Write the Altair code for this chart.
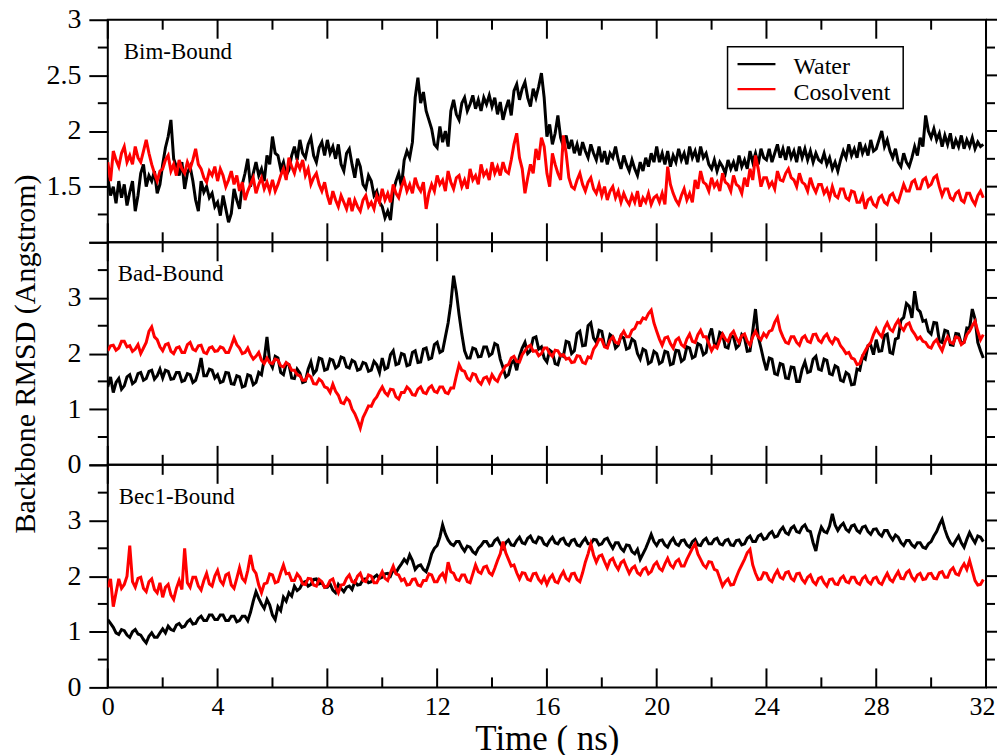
import altair as alt
import pandas as pd

PANELS = ["Bim-Bound", "Bad-Bound", "Bec1-Bound"]
SERIES = ["Water", "Cosolvent"]
COLORS = ["#000000", "#ff0000"]
STEP_NS = 0.1

W1 = [1.58, 1.42, 1.50, 1.35, 1.55, 1.40, 1.52, 1.33, 1.45, 1.55, 1.28, 1.42, 1.62, 1.70, 1.50, 1.60, 1.55, 1.64, 1.44, 1.52,
      1.70, 1.85, 1.95, 2.10, 1.75, 1.68, 1.60, 1.72, 1.48, 1.62, 1.68, 1.55, 1.38, 1.28, 1.55, 1.45, 1.50, 1.40, 1.44, 1.32,
      1.36, 1.24, 1.42, 1.30, 1.18, 1.26, 1.48, 1.38, 1.30, 1.52, 1.62, 1.75, 1.50, 1.62, 1.72, 1.60, 1.66, 1.55, 1.78, 1.70,
      1.95, 1.80, 1.78, 1.66, 1.72, 1.60, 1.65, 1.78, 1.86, 1.74, 1.92, 1.80, 1.76, 1.88, 1.94, 1.78, 1.72, 1.85, 1.90, 1.78,
      1.92, 1.80, 1.86, 1.75, 1.88, 1.70, 1.64, 1.80, 1.84, 1.70, 1.58, 1.75, 1.68, 1.52, 1.48, 1.60, 1.55, 1.42, 1.46, 1.36,
      1.32, 1.22, 1.28, 1.20, 1.45, 1.55, 1.62, 1.50, 1.74, 1.82, 1.76, 1.90, 2.30, 2.48, 2.25, 2.35, 2.18, 2.10, 2.02, 1.88,
      1.85, 2.04, 1.90, 2.00, 1.86, 2.18, 2.28, 2.15, 2.10, 2.25, 2.30, 2.18, 2.24, 2.32, 2.20, 2.28, 2.18, 2.30, 2.24, 2.32,
      2.22, 2.30, 2.15, 2.26, 2.10, 2.20, 2.28, 2.14, 2.36, 2.42, 2.28, 2.38, 2.44, 2.30, 2.22, 2.38, 2.30, 2.40, 2.52, 2.30,
      1.95, 2.06, 1.88, 1.98, 2.14, 1.94, 1.86, 1.96, 1.84, 1.92, 1.80, 1.88, 1.78, 1.90, 1.82, 1.76, 1.88, 1.80, 1.74, 1.86,
      1.72, 1.82, 1.70, 1.80, 1.76, 1.86, 1.74, 1.66, 1.78, 1.70, 1.64, 1.74, 1.66, 1.60, 1.72, 1.64, 1.76, 1.68, 1.80, 1.72,
      1.86, 1.72, 1.80, 1.70, 1.82, 1.68, 1.78, 1.72, 1.84, 1.74, 1.80, 1.70, 1.86, 1.76, 1.82, 1.72, 1.86, 1.76, 1.80, 1.70,
      1.66, 1.74, 1.64, 1.72, 1.68, 1.62, 1.74, 1.66, 1.72, 1.64, 1.78, 1.68, 1.74, 1.66, 1.82, 1.72, 1.80, 1.70, 1.84, 1.76,
      1.74, 1.84, 1.72, 1.80, 1.88, 1.76, 1.84, 1.74, 1.86, 1.76, 1.82, 1.72, 1.86, 1.76, 1.84, 1.74, 1.82, 1.72, 1.80, 1.74,
      1.72, 1.80, 1.70, 1.76, 1.66, 1.72, 1.64, 1.74, 1.82, 1.76, 1.88, 1.78, 1.84, 1.76, 1.90, 1.80, 1.86, 1.78, 1.92, 1.82,
      1.84, 1.92, 2.00, 1.86, 1.92, 1.82, 1.76, 1.84, 1.72, 1.68, 1.80, 1.72, 1.68, 1.76, 1.86, 1.78, 1.94, 1.86, 2.14, 2.00,
      1.94, 2.02, 1.92, 1.98, 1.86, 1.96, 1.88, 1.98, 1.84, 1.92, 1.86, 1.96, 1.84, 1.92, 1.86, 1.94, 1.84, 1.90, 1.86, 1.88]

C1 = [1.72, 1.55, 1.82, 1.74, 1.68, 1.80, 1.86, 1.72, 1.78, 1.70, 1.86, 1.76, 1.72, 1.82, 1.92, 1.80, 1.70, 1.62, 1.55, 1.64,
      1.66, 1.74, 1.78, 1.64, 1.70, 1.60, 1.74, 1.66, 1.62, 1.72, 1.66, 1.74, 1.84, 1.70, 1.66, 1.58, 1.54, 1.64, 1.60, 1.68,
      1.55, 1.66, 1.60, 1.50, 1.56, 1.64, 1.52, 1.60, 1.46, 1.54, 1.38, 1.46, 1.52, 1.58, 1.44, 1.52, 1.58, 1.48, 1.54, 1.46,
      1.56, 1.46, 1.52, 1.60, 1.66, 1.56, 1.76, 1.68, 1.62, 1.72, 1.66, 1.74, 1.60, 1.66, 1.52, 1.58, 1.62, 1.52, 1.46, 1.54,
      1.42, 1.34, 1.46, 1.38, 1.32, 1.42, 1.36, 1.30, 1.40, 1.28, 1.38, 1.32, 1.28, 1.38, 1.42, 1.32, 1.36, 1.30, 1.42, 1.36,
      1.48, 1.38, 1.44, 1.36, 1.52, 1.44, 1.40, 1.50, 1.56, 1.46, 1.52, 1.44, 1.58, 1.50, 1.46, 1.54, 1.30, 1.44, 1.52, 1.46,
      1.60, 1.52, 1.56, 1.46, 1.64, 1.54, 1.48, 1.58, 1.60, 1.50, 1.56, 1.48, 1.66, 1.56, 1.60, 1.52, 1.70, 1.60, 1.64, 1.56,
      1.72, 1.62, 1.68, 1.60, 1.72, 1.64, 1.62, 1.74, 1.88, 1.98, 1.76, 1.66, 1.44, 1.58, 1.70, 1.62, 1.84, 1.74, 1.94, 1.86,
      1.62, 1.50, 1.80, 1.70, 1.62, 1.56, 1.96, 1.80, 1.58, 1.50, 1.48, 1.56, 1.62, 1.52, 1.46, 1.54, 1.58, 1.48, 1.44, 1.52,
      1.42, 1.50, 1.38, 1.46, 1.50, 1.40, 1.46, 1.36, 1.44, 1.38, 1.34, 1.42, 1.36, 1.46, 1.32, 1.40, 1.36, 1.44, 1.34, 1.40,
      1.42, 1.36, 1.44, 1.34, 1.68, 1.52, 1.44, 1.38, 1.34, 1.42, 1.48, 1.38, 1.44, 1.36, 1.56, 1.48, 1.64, 1.54, 1.52, 1.46,
      1.58, 1.50, 1.54, 1.46, 1.62, 1.54, 1.52, 1.46, 1.60, 1.52, 1.50, 1.44, 1.58, 1.50, 1.66, 1.56, 1.78, 1.66, 1.50, 1.58,
      1.58, 1.50, 1.54, 1.48, 1.64, 1.56, 1.55, 1.62, 1.66, 1.58, 1.56, 1.50, 1.62, 1.54, 1.52, 1.46, 1.58, 1.50, 1.45, 1.52,
      1.52, 1.44, 1.48, 1.40, 1.50, 1.42, 1.40, 1.48, 1.48, 1.40, 1.38, 1.46, 1.45, 1.36, 1.36, 1.42, 1.30, 1.38, 1.40, 1.34,
      1.32, 1.40, 1.42, 1.36, 1.34, 1.42, 1.44, 1.38, 1.36, 1.44, 1.52, 1.46, 1.46, 1.54, 1.56, 1.48, 1.48, 1.56, 1.58, 1.50,
      1.52, 1.58, 1.60, 1.50, 1.42, 1.48, 1.48, 1.40, 1.38, 1.44, 1.46, 1.38, 1.36, 1.44, 1.44, 1.38, 1.34, 1.42, 1.46, 1.40]

W2 = [1.40, 1.58, 1.30, 1.48, 1.55, 1.36, 1.42, 1.58, 1.62, 1.46, 1.50, 1.64, 1.66, 1.52, 1.55, 1.68, 1.70, 1.54, 1.60, 1.72,
      1.56, 1.70, 1.68, 1.54, 1.55, 1.66, 1.66, 1.50, 1.52, 1.64, 1.62, 1.48, 1.52, 1.68, 1.92, 1.60, 1.60, 1.72, 1.70, 1.56,
      1.62, 1.48, 1.50, 1.66, 1.65, 1.46, 1.45, 1.60, 1.58, 1.40, 1.42, 1.62, 1.60, 1.44, 1.48, 1.66, 1.62, 1.90, 2.30, 1.85,
      1.75, 1.95, 1.92, 1.66, 1.62, 1.82, 1.80, 1.56, 1.55, 1.72, 1.65, 1.48, 1.50, 1.72, 1.85, 1.64, 1.70, 1.92, 1.90, 1.70,
      1.72, 1.90, 1.88, 1.74, 1.78, 1.94, 1.92, 1.76, 1.74, 1.88, 1.85, 1.70, 1.72, 1.84, 1.82, 1.68, 1.70, 1.86, 1.80, 1.66,
      1.92, 1.72, 1.75, 1.98, 2.05, 1.80, 1.82, 2.00, 1.98, 1.78, 1.80, 2.02, 2.05, 1.84, 1.85, 2.08, 2.10, 1.90, 1.92, 2.16,
      2.20, 2.02, 2.05, 2.30, 2.55, 2.90, 3.40, 3.10, 2.70, 2.35, 2.05, 1.92, 1.92, 2.10, 2.08, 1.94, 1.95, 2.12, 2.12, 1.96,
      2.00, 2.18, 2.15, 1.90, 1.75, 1.58, 1.62, 1.82, 1.88, 1.70, 1.95, 2.10, 2.20, 2.00, 2.05, 2.28, 2.30, 2.08, 2.12, 1.92,
      1.85, 2.06, 2.02, 1.82, 1.80, 1.98, 1.95, 2.22, 2.20, 2.00, 2.05, 2.36, 2.40, 2.14, 2.15, 2.50, 2.55, 2.28, 2.20, 2.42,
      2.40, 2.14, 2.12, 2.34, 2.30, 2.10, 2.15, 2.32, 2.28, 2.08, 2.10, 2.26, 2.22, 2.00, 1.90, 2.08, 2.05, 1.82, 1.85, 2.04,
      2.00, 1.82, 1.85, 2.04, 2.02, 1.80, 1.82, 2.06, 2.05, 1.86, 1.90, 2.12, 2.10, 1.92, 1.95, 2.18, 2.15, 1.98, 2.02, 2.30,
      2.45, 2.18, 2.15, 2.38, 2.35, 2.12, 2.10, 2.32, 2.30, 2.10, 2.15, 2.34, 2.28, 2.04, 2.05, 2.40, 2.80, 2.30, 2.10, 1.88,
      1.70, 1.92, 1.90, 1.64, 1.62, 1.82, 1.80, 1.56, 1.55, 1.76, 1.75, 1.50, 1.50, 1.72, 1.85, 1.66, 1.68, 1.90, 1.95, 1.72,
      1.70, 1.90, 1.88, 1.64, 1.62, 1.78, 1.75, 1.52, 1.50, 1.66, 1.62, 1.44, 1.45, 1.72, 1.70, 1.94, 1.90, 2.14, 2.15, 1.98,
      2.25, 2.04, 2.05, 2.32, 2.35, 2.02, 2.00, 2.26, 2.28, 2.60, 2.65, 2.90, 2.85, 2.64, 3.12, 2.80, 2.75, 2.58, 2.60, 2.40,
      2.35, 2.56, 2.55, 2.22, 2.20, 2.42, 2.40, 2.16, 2.15, 2.36, 2.35, 2.18, 2.20, 2.46, 2.45, 2.80, 2.62, 2.20, 2.05, 1.92]

C2 = [2.05, 2.14, 2.15, 2.06, 2.10, 2.22, 2.22, 2.12, 2.14, 2.04, 2.08, 2.16, 2.00, 2.10, 2.20, 2.40, 2.48, 2.30, 2.25, 2.12,
      2.05, 2.16, 2.18, 2.04, 2.00, 2.10, 2.12, 2.02, 2.02, 2.16, 2.20, 2.08, 2.05, 2.14, 2.15, 2.02, 2.00, 2.10, 2.12, 2.04,
      2.05, 2.12, 2.10, 2.02, 2.02, 2.14, 2.28, 2.16, 2.10, 2.00, 2.02, 2.10, 1.98, 1.90, 1.95, 2.02, 1.88, 1.82, 1.92, 1.84,
      1.82, 1.90, 1.88, 1.78, 1.76, 1.84, 1.80, 1.70, 1.70, 1.62, 1.60, 1.52, 1.52, 1.62, 1.58, 1.46, 1.45, 1.54, 1.50, 1.40,
      1.38, 1.30, 1.45, 1.32, 1.25, 1.12, 1.10, 1.20, 1.15, 1.00, 0.92, 0.80, 0.66, 0.85, 0.95, 1.06, 1.05, 1.16, 1.22, 1.32,
      1.40, 1.30, 1.25, 1.36, 1.35, 1.22, 1.18, 1.30, 1.30, 1.40, 1.35, 1.26, 1.25, 1.36, 1.40, 1.30, 1.28, 1.38, 1.42, 1.32,
      1.30, 1.40, 1.40, 1.30, 1.28, 1.38, 1.38, 1.60, 1.80, 1.70, 1.68, 1.56, 1.52, 1.64, 1.62, 1.50, 1.45, 1.56, 1.58, 1.48,
      1.62, 1.54, 1.50, 1.62, 1.70, 1.78, 1.80, 1.92, 1.95, 1.86, 1.85, 1.98, 2.05, 2.12, 2.15, 2.04, 2.05, 1.96, 2.00, 2.10,
      2.10, 2.00, 1.95, 2.06, 2.05, 1.96, 1.98, 1.90, 1.92, 1.84, 1.85, 1.96, 1.95, 1.84, 1.82, 1.94, 1.92, 2.08, 2.15, 2.26,
      2.25, 2.12, 2.10, 2.24, 2.30, 2.20, 2.18, 2.32, 2.40, 2.30, 2.30, 2.42, 2.45, 2.56, 2.55, 2.64, 2.62, 2.72, 2.78, 2.55,
      2.40, 2.26, 2.15, 2.28, 2.30, 2.18, 2.10, 2.24, 2.28, 2.16, 2.12, 2.26, 2.35, 2.22, 2.20, 2.34, 2.42, 2.30, 2.30, 2.18,
      2.05, 2.14, 2.10, 2.24, 2.35, 2.26, 2.22, 2.34, 2.40, 2.28, 2.20, 2.32, 2.35, 2.22, 2.15, 2.30, 2.40, 2.30, 2.25, 2.36,
      2.30, 2.40, 2.42, 2.56, 2.65, 2.42, 2.30, 2.20, 2.18, 2.30, 2.30, 2.20, 2.15, 2.28, 2.32, 2.22, 2.20, 2.34, 2.35, 2.24,
      2.20, 2.30, 2.35, 2.24, 2.18, 2.28, 2.25, 2.14, 2.08, 2.00, 2.02, 1.92, 1.90, 1.80, 1.82, 1.96, 2.05, 2.14, 2.20, 2.34,
      2.45, 2.36, 2.30, 2.46, 2.55, 2.44, 2.40, 2.52, 2.60, 2.48, 2.42, 2.52, 2.55, 2.42, 2.35, 2.26, 2.30, 2.22, 2.20, 2.12,
      2.10, 2.20, 2.25, 2.14, 2.05, 2.20, 2.30, 2.20, 2.18, 2.30, 2.28, 2.16, 2.20, 2.34, 2.40, 2.50, 2.58, 2.40, 2.25, 2.34]

W3 = [1.22, 1.15, 1.08, 0.98, 0.95, 1.04, 1.02, 0.94, 0.90, 1.00, 1.04, 0.96, 0.94, 0.86, 0.80, 0.92, 0.98, 0.90, 0.90, 0.98,
      1.05, 0.98, 1.10, 1.04, 1.02, 1.12, 1.15, 1.08, 1.10, 1.18, 1.22, 1.14, 1.15, 1.24, 1.28, 1.20, 1.20, 1.30, 1.30, 1.22,
      1.22, 1.30, 1.30, 1.20, 1.20, 1.28, 1.28, 1.18, 1.20, 1.28, 1.28, 1.20, 1.35, 1.55, 1.72, 1.60, 1.50, 1.42, 1.58, 1.48,
      1.30, 1.22, 1.45, 1.38, 1.62, 1.55, 1.70, 1.64, 1.82, 1.74, 1.78, 1.88, 1.90, 1.82, 1.85, 1.94, 1.95, 1.86, 1.88, 1.80,
      1.80, 1.86, 1.75, 1.70, 1.85, 1.78, 1.72, 1.80, 1.82, 1.76, 1.90, 1.84, 1.85, 1.94, 1.95, 1.88, 1.90, 1.98, 2.02, 1.96,
      1.98, 2.04, 2.05, 2.00, 2.12, 2.06, 2.15, 2.22, 2.30, 2.24, 2.38, 2.28, 2.12, 2.18, 2.20, 2.12, 2.08, 2.22, 2.40, 2.50,
      2.55, 2.70, 2.92, 2.76, 2.65, 2.58, 2.55, 2.62, 2.62, 2.52, 2.45, 2.54, 2.52, 2.44, 2.40, 2.50, 2.55, 2.62, 2.62, 2.54,
      2.55, 2.64, 2.68, 2.58, 2.50, 2.60, 2.65, 2.56, 2.55, 2.64, 2.70, 2.60, 2.58, 2.68, 2.72, 2.62, 2.60, 2.70, 2.68, 2.58,
      2.55, 2.64, 2.70, 2.60, 2.58, 2.66, 2.68, 2.58, 2.55, 2.64, 2.66, 2.56, 2.54, 2.62, 2.68, 2.58, 2.58, 2.66, 2.65, 2.56,
      2.58, 2.66, 2.68, 2.58, 2.50, 2.60, 2.60, 2.50, 2.45, 2.56, 2.55, 2.44, 2.40, 2.48, 2.30, 2.40, 2.50, 2.62, 2.75, 2.62,
      2.55, 2.64, 2.65, 2.56, 2.52, 2.62, 2.68, 2.58, 2.55, 2.64, 2.65, 2.56, 2.52, 2.62, 2.66, 2.56, 2.55, 2.64, 2.68, 2.58,
      2.58, 2.66, 2.68, 2.58, 2.56, 2.64, 2.66, 2.56, 2.55, 2.64, 2.65, 2.56, 2.58, 2.68, 2.72, 2.62, 2.62, 2.72, 2.75, 2.66,
      2.68, 2.76, 2.80, 2.70, 2.72, 2.82, 2.88, 2.78, 2.75, 2.86, 2.90, 2.80, 2.78, 2.88, 2.92, 2.82, 2.80, 2.60, 2.45, 2.72,
      2.88, 2.80, 2.78, 2.90, 3.12, 2.92, 2.82, 2.90, 2.95, 2.84, 2.80, 2.90, 2.92, 2.82, 2.78, 2.88, 2.90, 2.80, 2.75, 2.84,
      2.85, 2.76, 2.72, 2.82, 2.82, 2.72, 2.65, 2.74, 2.70, 2.60, 2.55, 2.64, 2.64, 2.56, 2.52, 2.60, 2.60, 2.52, 2.50, 2.58,
      2.62, 2.72, 2.80, 2.92, 3.02, 2.84, 2.70, 2.60, 2.55, 2.64, 2.72, 2.60, 2.52, 2.66, 2.78, 2.68, 2.60, 2.72, 2.70, 2.62]

C3 = [1.80, 1.95, 1.45, 1.70, 1.95, 1.78, 1.85, 2.00, 2.55, 1.90, 1.80, 1.96, 1.98, 1.78, 1.72, 1.90, 1.95, 1.76, 1.70, 1.88,
      1.62, 1.80, 1.85, 1.66, 1.58, 1.78, 1.92, 1.76, 2.50, 1.88, 1.80, 1.98, 1.98, 1.82, 1.75, 1.92, 2.05, 1.86, 1.82, 2.00,
      2.10, 1.92, 1.85, 2.02, 2.05, 1.84, 1.78, 1.96, 2.15, 1.96, 1.90, 2.10, 2.38, 2.12, 2.05, 1.84, 1.70, 1.86, 1.88, 2.04,
      2.02, 1.88, 1.90, 2.06, 2.20, 2.04, 2.05, 1.92, 1.92, 2.04, 1.98, 1.86, 1.85, 1.96, 1.95, 1.84, 1.82, 1.94, 1.90, 1.80,
      1.82, 1.92, 1.95, 1.80, 1.70, 1.84, 1.85, 1.96, 2.02, 1.90, 1.88, 2.00, 2.05, 1.92, 1.90, 2.02, 2.00, 1.88, 1.88, 1.98,
      2.08, 1.96, 1.92, 2.06, 2.18, 2.04, 2.02, 1.92, 1.95, 1.84, 1.85, 1.94, 1.95, 1.84, 1.82, 1.92, 1.92, 2.04, 2.02, 1.90,
      1.90, 2.00, 2.05, 1.94, 2.25, 2.08, 2.05, 1.94, 1.92, 2.02, 2.02, 1.90, 1.88, 2.04, 2.20, 2.08, 2.05, 2.16, 2.18, 2.06,
      2.02, 2.14, 2.28, 2.40, 2.62, 2.42, 2.30, 2.18, 2.20, 2.06, 1.95, 2.06, 2.05, 1.94, 1.92, 2.04, 2.05, 1.94, 1.88, 1.98,
      1.85, 1.96, 2.02, 1.90, 1.88, 2.00, 2.08, 1.96, 1.92, 2.04, 2.05, 1.94, 1.90, 2.06, 2.25, 2.40, 2.58, 2.38, 2.25, 2.36,
      2.38, 2.26, 2.15, 2.28, 2.32, 2.20, 2.12, 2.24, 2.28, 2.16, 2.05, 2.14, 2.18, 2.06, 2.02, 2.12, 2.15, 2.04, 2.08, 2.20,
      2.25, 2.14, 2.10, 2.22, 2.32, 2.20, 2.15, 2.26, 2.30, 2.18, 2.18, 2.30, 2.40, 2.50, 2.58, 2.40, 2.30, 2.20, 2.15, 2.26,
      2.25, 2.12, 2.10, 1.96, 1.82, 1.90, 1.95, 1.84, 1.85, 1.98, 2.10, 2.20, 2.30, 2.42, 2.48, 2.20, 2.05, 1.94, 1.95, 2.06,
      2.05, 1.94, 1.90, 2.02, 2.10, 1.98, 1.95, 2.06, 2.08, 1.96, 1.92, 2.04, 2.05, 1.94, 1.88, 1.98, 2.02, 1.90, 1.85, 1.96,
      1.98, 1.88, 1.82, 1.94, 1.95, 1.86, 1.85, 1.96, 2.00, 1.90, 1.88, 1.98, 1.98, 1.88, 1.85, 1.96, 2.00, 1.90, 1.86, 1.96,
      1.98, 1.88, 1.85, 1.96, 2.05, 1.94, 1.90, 2.00, 2.08, 1.96, 1.95, 2.06, 2.10, 1.98, 1.92, 2.02, 2.05, 1.94, 1.95, 2.04,
      2.05, 1.96, 1.95, 2.06, 2.08, 1.98, 1.98, 2.10, 2.15, 2.04, 2.02, 2.14, 2.22, 2.12, 2.28, 2.10, 1.92, 1.84, 1.85, 1.94]

DATA = [(W1, C1), (W2, C2), (W3, C3)]
DOMAINS = [(1.0, 3.0), (0.0, 4.0), (0.0, 4.0)]
YMAJ = [[1.0, 1.5, 2.0, 2.5, 3.0], [0, 1, 2, 3, 4], [0, 1, 2, 3, 4]]
YMIN = [[1.25, 1.75, 2.25, 2.75], [0.5, 1.5, 2.5, 3.5], [0.5, 1.5, 2.5, 3.5]]
HIDE = [[1.0], [4], [4]]
XMAJ = [0, 4, 8, 12, 16, 20, 24, 28, 32]
XMIN = [2, 6, 10, 14, 18, 22, 26, 30]
X_TITLE = "Time ( ns)"
Y_TITLE = "Backbone RMSD (Angstrom)"

W, H = 880, 223
FONT = "Liberation Serif"
LABEL_X = [16, 10, 11]


def panel(i):
    lo, hi = DOMAINS[i]
    xscale = alt.Scale(domain=[0, 32], nice=False, zero=False)
    yscale = alt.Scale(domain=[lo, hi], nice=False, zero=False)
    hide = " || ".join(f"datum.value == {h}" for h in HIDE[i])
    yaxis = alt.Axis(values=YMAJ[i], labelExpr=f"({hide}) ? '' : format(datum.value, '~g')",
                     tickSize=19, tickWidth=2, tickColor="black", domain=False, grid=False,
                     labelFont=FONT, labelFontSize=28, labelColor="black", labelPadding=8,
                     minExtent=64, maxExtent=64, titleFont=FONT, titleFontSize=30,
                     titleFontWeight="normal", titleColor="black", titlePadding=3)
    ytitle = Y_TITLE if i == 1 else None
    if i == 2:
        xaxis = alt.Axis(values=XMAJ, format="d", ticks=False, domain=False, grid=False,
                         labelFlush=False,
                         labelOffset={"condition": {"test": f"datum.value == {XMAJ[-1]}", "value": -4},
                                      "value": 0},
                         labelFont=FONT, labelFontSize=26, labelColor="black",
                         labelPadding=6, titleFont=FONT, titleFontSize=35, titleFontWeight="normal",
                         titleColor="black", titlePadding=2)
        xtitle = X_TITLE
    else:
        xaxis = None
        xtitle = None

    def X(field):
        return alt.X(field, type="quantitative", scale=xscale, axis=xaxis, title=xtitle)

    def Y(field):
        return alt.Y(field, type="quantitative", scale=yscale, axis=yaxis, title=ytitle)

    layers = []
    for k, s in enumerate(SERIES):
        vals = DATA[i][k]
        df = pd.DataFrame({"t": [round(STEP_NS * j, 2) for j in range(len(vals))], "rmsd": vals})
        layers.append(alt.Chart(df).mark_line(color=COLORS[k], strokeWidth=3, clip=True)
                      .encode(x=X("t"), y=Y("rmsd")))

    xmaj = pd.DataFrame({"t": XMAJ})
    xmin = pd.DataFrame({"t": XMIN})
    for d, ln in ((xmaj, 19), (xmin, 10)):
        layers.append(alt.Chart(d).mark_rule(color="black", strokeWidth=2)
                      .encode(x=X("t"), y=alt.value(0), y2=alt.value(ln)))
        layers.append(alt.Chart(d).mark_rule(color="black", strokeWidth=2)
                      .encode(x=X("t"), y=alt.value(H - ln), y2=alt.value(H)))
    ymaj = pd.DataFrame({"rmsd": YMAJ[i]})
    ymin = pd.DataFrame({"rmsd": YMIN[i]})
    layers.append(alt.Chart(ymin).mark_rule(color="black", strokeWidth=2)
                  .encode(y=Y("rmsd"), x=alt.value(-10), x2=alt.value(0)))
    layers.append(alt.Chart(ymaj).mark_rule(color="black", strokeWidth=2)
                  .encode(y=Y("rmsd"), x=alt.value(W), x2=alt.value(W + 14)))
    layers.append(alt.Chart(ymin).mark_rule(color="black", strokeWidth=2)
                  .encode(y=Y("rmsd"), x=alt.value(W), x2=alt.value(W + 9)))

    lab = pd.DataFrame({"label": [PANELS[i]]})
    layers.append(alt.Chart(lab).mark_text(align="left", baseline="alphabetic", font=FONT,
                                           fontSize=23, color="black")
                  .encode(x=alt.value(LABEL_X[i]), y=alt.value(39), text="label:N"))

    if i == 0:
        box = pd.DataFrame({"k": [0]})
        layers.append(alt.Chart(box).mark_rect(fill="white", stroke="black", strokeWidth=1.5)
                      .encode(x=alt.value(621), x2=alt.value(797), y=alt.value(27), y2=alt.value(89)))
        for k, s in enumerate(SERIES):
            layers.append(alt.Chart(box).mark_rule(color=COLORS[k], strokeWidth=2.3)
                          .encode(x=alt.value(631), x2=alt.value(669), y=alt.value(44.5 + 25 * k)))
            layers.append(alt.Chart(pd.DataFrame({"name": [s]}))
                          .mark_text(align="left", baseline="alphabetic", font=FONT,
                                     fontSize=24, color="black")
                          .encode(x=alt.value(687), y=alt.value(54.5 + 25.5 * k), text="name:N"))

    return alt.layer(*layers).properties(width=W, height=H)


chart = (alt.vconcat(panel(0), panel(1), panel(2), spacing=0, bounds="flush")
         .configure_view(stroke="black", strokeWidth=2)
         .properties(padding={"left": 1, "top": -4, "right": -5, "bottom": 0}))

chart.save("out.html", embed_options={"renderer": "svg", "actions": False})
